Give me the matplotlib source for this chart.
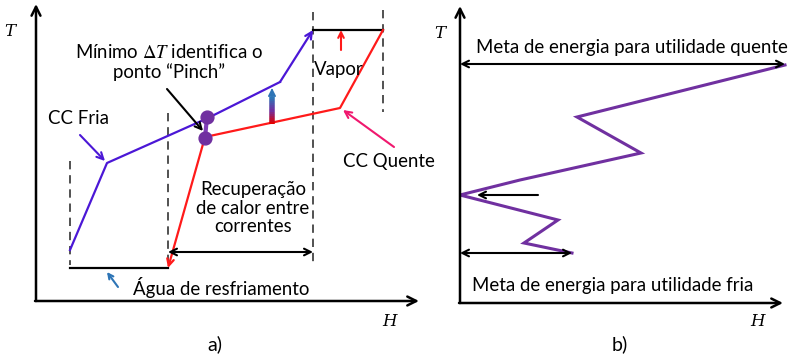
import numpy as np
import matplotlib.pyplot as plt

plt.rcParams['font.family'] = ['Lato', 'DejaVu Sans']
plt.rcParams['mathtext.fontset'] = 'stix'

# curvas compostas (coordenadas do desenho, y para baixo)
fria_x = [70, 107, 208, 280, 313]
fria_y = [250, 163, 118, 82, 30]
quente_x = [168, 205, 340, 383]
quente_y = [268, 137, 108, 30]
pinch_x = [207, 205]
pinch_y = [117, 138]

# grande curva composta
gcc_x = [785, 577, 641, 520, 460, 558, 524, 572]
gcc_y = [65, 117, 153, 180, 195, 220, 243, 253]

COR_FRIA = '#4B17D6'
COR_QUENTE = '#FF1A1A'
ROXO = '#7030A0'
AZUL = '#2E75B6'
FS = 13.4

fig = plt.figure(figsize=(8, 3.57), dpi=100)
ax = fig.add_axes([0, 0, 1, 1])
ax.set_xlim(0, 800)
ax.set_ylim(357, 0)
ax.axis('off')


def seta(x0, y0, x1, y1, cor='black', lw=1.5, estilo='->', ms=12):
    ax.annotate('', xy=(x1, y1), xytext=(x0, y0),
                arrowprops=dict(arrowstyle=estilo, color=cor, lw=lw,
                                mutation_scale=ms, shrinkA=0, shrinkB=0))


def tracejada(x, y0, y1):
    ax.plot([x, x], [y0, y1], color='#333333', lw=1.2, ls=(0, (5, 3.5)))


# ---------- a) ----------
seta(36, 301, 36, 4, lw=1.8, ms=16)
seta(35, 301, 419, 301, lw=1.8, ms=16)
ax.text(10, 32, 'T', family='DejaVu Serif', style='italic', fontsize=12,
        ha='center', va='center')
ax.text(389, 322, 'H', family='DejaVu Serif', style='italic', fontsize=12,
        ha='center', va='center')
ax.text(215, 344, 'a)', fontsize=14, ha='center', va='center')

tracejada(70, 161, 265)
tracejada(168, 113, 262)
tracejada(313, 12, 263)
tracejada(383, 10, 112)

# água de resfriamento e vapor
ax.plot([70, 168], [268, 268], color='black', lw=1.6)
ax.plot([313, 383], [30, 30], color='black', lw=1.6)
seta(341, 50, 341, 30, cor=COR_QUENTE, lw=1.5, ms=10)
seta(118, 287, 107, 272, cor=AZUL, lw=1.5, ms=9)

# curvas
ax.plot(fria_x[:-1], fria_y[:-1], color=COR_FRIA, lw=1.6)
seta(fria_x[-2], fria_y[-2], fria_x[-1], fria_y[-1], cor=COR_FRIA, lw=1.6)
ax.plot(quente_x[1:], quente_y[1:], color=COR_QUENTE, lw=1.6)
seta(quente_x[1], quente_y[1], quente_x[0], quente_y[0], cor=COR_QUENTE, lw=1.6)

# ponto pinch
ax.plot(pinch_x, pinch_y, color='#8040B8', lw=3)
ax.scatter(pinch_x, pinch_y, s=85, color=ROXO, zorder=5)

# seta com degradê (força motriz)
ys = np.linspace(124, 97, 14)
cores = plt.matplotlib.colors.LinearSegmentedColormap.from_list(
    'g', ['#E00000', '#7030A0', AZUL])(np.linspace(0, 1, len(ys) - 1))
for i in range(len(ys) - 1):
    ax.plot([272, 272], [ys[i], ys[i + 1]], color=cores[i], lw=4,
            solid_capstyle='butt')
seta(272, 99, 272, 88, cor=AZUL, lw=1, estilo='-|>', ms=12)

# recuperação
seta(240, 252, 168, 252, lw=1.5)
seta(240, 252, 313, 252, lw=1.5)
ax.text(253, 208, 'Recuperação\nde calor entre\ncorrentes', fontsize=FS,
        ha='center', va='center', linespacing=1.1)
ax.text(221, 287, 'Água de resfriamento', fontsize=FS, ha='center',
        va='center')
ax.text(169, 62, 'Mínimo $\\Delta T$ identifica o\nponto “Pinch”',
        fontsize=FS, ha='center', va='center', linespacing=1.1)
seta(167, 89, 203, 131, lw=1.5)
ax.text(78, 118, 'CC Fria', fontsize=FS, ha='center', va='center')
seta(80, 135, 105, 161, cor=COR_FRIA, lw=1.5)
ax.text(389, 162, 'CC Quente', fontsize=FS, ha='center', va='center')
seta(394, 147, 343, 110, cor='#F0186E', lw=1.5)
ax.text(339, 70, 'Vapor', fontsize=FS, ha='center', va='center')

# ---------- b) ----------
seta(460, 303, 460, 6, lw=1.8, ms=16)
seta(459, 303, 783, 303, lw=1.8, ms=16)
ax.text(440, 33, 'T', family='DejaVu Serif', style='italic', fontsize=12,
        ha='center', va='center')
ax.text(758, 322, 'H', family='DejaVu Serif', style='italic', fontsize=12,
        ha='center', va='center')
ax.text(620, 344, 'b)', fontsize=14, ha='center', va='center')

ax.plot(gcc_x, gcc_y, color=ROXO, lw=2.2, solid_joinstyle='miter')

seta(620, 64, 460, 64, lw=1.5)
seta(620, 64, 785, 64, lw=1.5)
ax.text(632, 47, 'Meta de energia para utilidade quente', fontsize=FS,
        ha='center', va='center')
seta(538, 195, 477, 195, lw=1.5)
seta(515, 253, 460, 253, lw=1.5)
seta(515, 253, 572, 253, lw=1.5)
ax.text(613, 285, 'Meta de energia para utilidade fria', fontsize=FS,
        ha='center', va='center')

fig.savefig('out.png', dpi=100)
